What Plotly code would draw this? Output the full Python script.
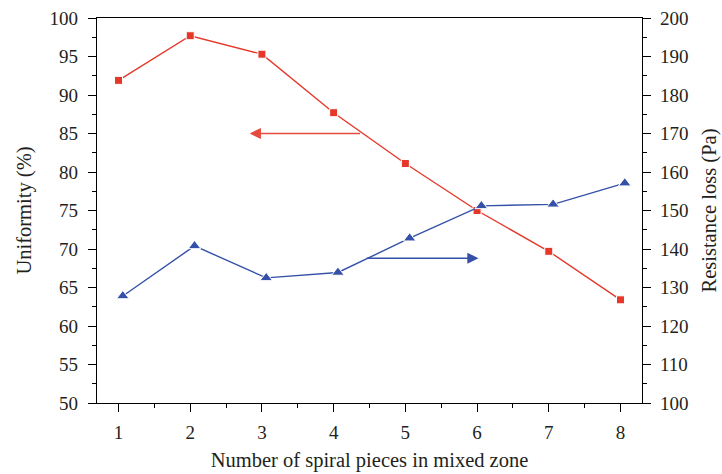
import plotly.graph_objects as go

# ---- data ----
pieces = [1, 2, 3, 4, 5, 6, 7, 8]
pieces_resist = [1.06, 2.06, 3.06, 4.06, 5.06, 6.06, 7.06, 8.06]
uniformity = [91.9, 97.7, 95.3, 87.7, 81.1, 75.0, 69.7, 63.4]
resistance = [127.8, 140.8, 132.5, 133.9, 142.8, 151.2, 151.6, 157.1]

x_title = "Number of spiral pieces in mixed zone"
y1_title = "Uniformity (%)"
y2_title = "Resistance loss (Pa)"

RED = "#e5382a"
BLUE = "#3550a8"
INK = "#231f20"
FONT = "Liberation Serif"

fig = go.Figure()
fig.add_trace(go.Scatter(
    x=pieces, y=uniformity, mode="lines+markers",
    line=dict(color=RED, width=1.4),
    marker=dict(symbol="square", size=8, color=RED, line=dict(color="white", width=1)),
    yaxis="y", showlegend=False, cliponaxis=False))
fig.add_trace(go.Scatter(
    x=pieces_resist, y=resistance, mode="lines+markers",
    line=dict(color=BLUE, width=1.4),
    marker=dict(symbol="triangle-up", size=11, color=BLUE, line=dict(color="white", width=1)),
    yaxis="y2", showlegend=False, cliponaxis=False))

# direction arrows
fig.add_annotation(x=2.83, y=85.0, ax=4.39, ay=85.0, xref="x", yref="y", axref="x", ayref="y",
                   text="", showarrow=True, arrowhead=2, arrowsize=1.4, arrowwidth=1.6,
                   arrowcolor="#e54a3e")
fig.add_annotation(x=6.02, y=137.6, ax=4.44, ay=137.6, xref="x", yref="y2", axref="x", ayref="y2",
                   text="", showarrow=True, arrowhead=2, arrowsize=1.4, arrowwidth=1.6,
                   arrowcolor=BLUE)

axis_common = dict(showline=True, linecolor="black", linewidth=1.2, ticks="outside",
                   ticklen=8, tickwidth=1.2, tickcolor="black", showgrid=False, zeroline=False,
                   tickfont=dict(family=FONT, size=19, color=INK))

fig.update_layout(
    width=722, height=474,
    margin=dict(l=97, r=80, t=18, b=71, autoexpand=False),
    paper_bgcolor="white", plot_bgcolor="white",
    font=dict(family=FONT, color=INK),
    xaxis=dict(range=[0.7, 8.3], tickmode="array", tickvals=pieces, mirror=True,
               ticklabelstandoff=4,
               minor=dict(ticks="outside", ticklen=4, tickwidth=1.2, tickcolor="black", dtick=0.5, tick0=0.5),
               title=dict(text=x_title, font=dict(family=FONT, size=20.5, color=INK), standoff=10),
               **axis_common),
    yaxis=dict(range=[50, 100], dtick=5, ticklabelstandoff=6,
               minor=dict(ticks="outside", ticklen=4, tickwidth=1.2, tickcolor="black", dtick=2.5),
               title=dict(text=y1_title, font=dict(family=FONT, size=20.5, color=INK), standoff=12),
               **axis_common),
    yaxis2=dict(range=[100, 200], dtick=10, overlaying="y", side="right", anchor="x",
                ticklabelstandoff=5,
                minor=dict(ticks="outside", ticklen=4, tickwidth=1.2, tickcolor="black", dtick=5),
                title=dict(text=y2_title, font=dict(family=FONT, size=20.5, color=INK), standoff=14),
                **axis_common),
)

fig.write_html("out.html")
